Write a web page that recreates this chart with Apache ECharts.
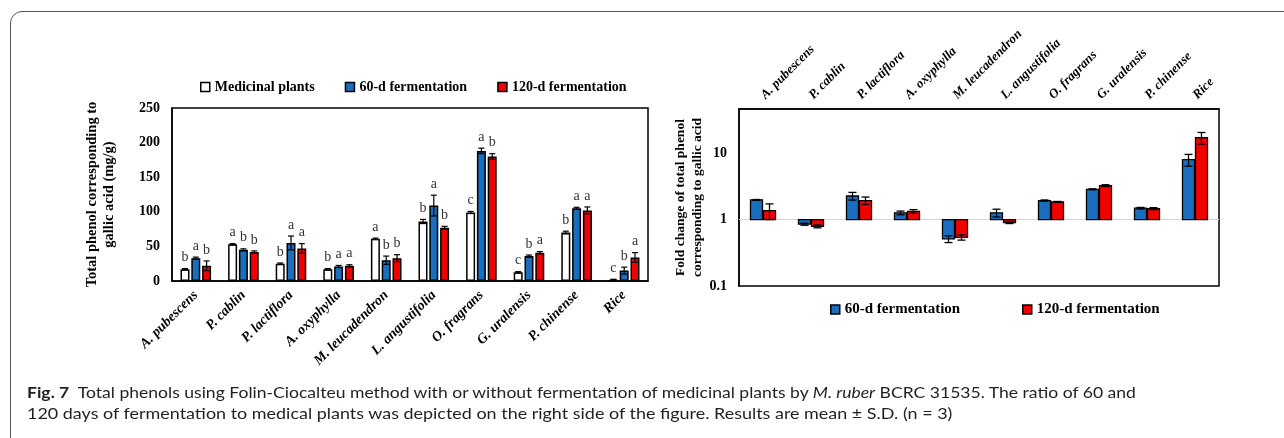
<!DOCTYPE html>
<html><head><meta charset="utf-8">
<script src="https://cdn.jsdelivr.net/npm/echarts@6/dist/echarts.min.js"></script>
<style>
html,body{margin:0;padding:0;background:#fff;width:1284px;height:438px;overflow:hidden}
#frame{position:absolute;left:10px;top:11px;width:1400px;height:600px;border:1.5px solid #555;border-radius:12px 0 0 0;box-sizing:border-box}
#chart{position:absolute;left:0;top:0;width:1284px;height:438px}
.cap{position:absolute;left:27px;font-family:Lato,'Open Sans',sans-serif;font-size:16px;color:#231f20;white-space:nowrap;transform-origin:0 0;line-height:19px}
.cap b{font-weight:bold}
</style></head><body>
<div id="frame"></div>
<div id="chart"></div>
<div class="cap" id="cap1" style="top:382px"><b>Fig. 7</b>&nbsp; Total phenols using Folin-Ciocalteu method with or without fermentation of medicinal plants by <i>M. ruber</i> BCRC 31535. The ratio of 60 and</div>
<div class="cap" id="cap2" style="top:403px">120 days of fermentation to medical plants was depicted on the right side of the figure. Results are mean ± S.D. (n = 3)</div>
<script>
const categories = ['A. pubescens','P. cablin','P. lactiflora','A. oxyphylla','M. leucadendron','L. angustifolia','O. fragrans','G. uralensis','P. chinense','Rice'];
const yTicksLeft = [0, 50, 100, 150, 200, 250];
const medicinal    = [17, 53, 25, 17, 61, 86, 99, 12.5, 70, 2];
const medicinalErr = [1, 1, 1, 1, 1, 3, 1.5, 1, 2, 0.5];
const ferm60       = [33, 45, 55, 21, 30, 109, 188, 36, 105, 15];
const ferm60Err    = [1.5, 1.5, 10, 1.5, 6, 15, 4, 1.5, 1.5, 5];
const ferm120      = [22, 42, 47, 22, 33, 77, 180, 41, 102, 34];
const ferm120Err   = [7, 1.5, 7, 1.5, 5, 2, 4, 1.5, 5, 7];
const lettersMed   = ['b','a','b','b','a','b','c','c','b','c'];
const letters60    = ['a','b','a','a','b','a','a','b','a','b'];
const letters120   = ['b','b','a','a','b','b','b','a','a','a'];
const fold60       = [1.97, 0.85, 2.26, 1.26, 0.51, 1.26, 1.93, 2.85, 1.48, 7.94];
const fold60Err    = [0.03, 0.03, 0.3, 0.08, 0.06, 0.17, 0.04, 0.05, 0.04, 1.6];
const fold120      = [1.36, 0.79, 1.93, 1.33, 0.54, 0.90, 1.84, 3.24, 1.46, 17.0];
const fold120Err   = [0.36, 0.04, 0.25, 0.08, 0.05, 0.03, 0.03, 0.1, 0.05, 3.4];
const yTicksRight  = [0.1, 1, 10];

const serif = "'Liberation Serif','Times New Roman',serif";
const BLUE = '#1a6ebd', RED = '#f20000';
const barW = 9, barGapRatio = 0.2;
const step = barW * (1 + barGapRatio);

function makeErr(vals, errs, lets, offset) {
  return {
    type:'custom', xAxisIndex:0, yAxisIndex:0, z:5, silent:true,
    data: vals.map((v,i)=>[i,v]),
    renderItem:(params, api)=>{
      const i = params.dataIndex, v = vals[i], e = errs[i];
      const hi = api.coord([i, v+e]), lo = api.coord([i, Math.max(v-e,0)]);
      const x = hi[0] + offset;
      const st = {stroke:'#000', lineWidth:1.2};
      return {type:'group', children:[
        {type:'line', shape:{x1:x,y1:hi[1],x2:x,y2:lo[1]}, style:st},
        {type:'line', shape:{x1:x-3,y1:hi[1],x2:x+3,y2:hi[1]}, style:st},
        {type:'line', shape:{x1:x-3,y1:lo[1],x2:x+3,y2:lo[1]}, style:st},
        {type:'text', x:x, y:hi[1]-4, style:{text:lets[i], align:'center', verticalAlign:'bottom', font:'14px '+serif, fill:'#333'}}
      ]};
    }
  };
}

function makeFold(name, vals, errs, color, offset, withLine) {
  const s = {
    type:'custom', name, xAxisIndex:1, yAxisIndex:1, z:5, silent:true,
    itemStyle:{color, borderColor:'#000', borderWidth:1.2},
    data: vals.map((v,i)=>[i,v]),
    renderItem:(params, api)=>{
      const i = params.dataIndex, v = vals[i], e = errs[i];
      const p = api.coord([i, v]), b = api.coord([i, 1]);
      const hi = api.coord([i, v+e]), lo = api.coord([i, v-e]);
      const x = p[0] + offset, w = 12;
      const st = {stroke:'#000', lineWidth:1.3};
      return {type:'group', children:[
        {type:'rect', shape:{x:x-w/2, y:Math.min(p[1],b[1]), width:w, height:Math.abs(p[1]-b[1])}, style:{fill:color, stroke:'#000', lineWidth:1.3}},
        {type:'line', shape:{x1:x,y1:hi[1],x2:x,y2:lo[1]}, style:st},
        {type:'line', shape:{x1:x-4,y1:hi[1],x2:x+4,y2:hi[1]}, style:st},
        {type:'line', shape:{x1:x-4,y1:lo[1],x2:x+4,y2:lo[1]}, style:st}
      ]};
    }
  };
  if (withLine) s.markLine = {silent:true, symbol:'none', label:{show:false}, lineStyle:{color:'#d4d4d4', width:1, type:'solid'}, data:[{yAxis:1}], z:1};
  return s;
}

const legendText = {fontFamily:serif, fontWeight:'bold', fontSize:14, color:'#000'};
const legendBase = {icon:'rect', itemWidth:9, itemHeight:9, itemGap:30, selectedMode:false, textStyle:legendText, itemStyle:{borderColor:'#000', borderWidth:1.5}};
const legendRight = Object.assign({}, legendBase, {textStyle:Object.assign({}, legendText, {fontSize:15})});

const option = {
  animation:false,
  backgroundColor:'transparent',
  legend:[
    Object.assign({data:['Medicinal plants','60-d fermentation','120-d fermentation'], left:195, top:75}, legendBase),
    Object.assign({data:['60-d fermentation'], left:825, top:297}, legendRight),
    Object.assign({data:['120-d fermentation'], left:1017, top:297}, legendRight)
  ],
  grid:[
    {left:172, top:108, width:476, height:173, show:true, borderColor:'#000', borderWidth:1.5},
    {left:739, top:109, width:480, height:177, show:true, borderColor:'#000', borderWidth:1.5}
  ],
  xAxis:[
    {type:'category', gridIndex:0, data:categories, axisTick:{show:false},
     axisLine:{lineStyle:{color:'#000', width:1.5}},
     axisLabel:{rotate:45, interval:0, margin:12, fontFamily:serif, fontStyle:'italic', fontWeight:'bold', fontSize:14, color:'#000'}},
    {type:'category', gridIndex:1, position:'top', data:categories, axisTick:{show:false},
     axisLine:{lineStyle:{color:'#000', width:1.5}},
     axisLabel:{rotate:-45, interval:0, margin:12, fontFamily:serif, fontStyle:'italic', fontWeight:'bold', fontSize:13, color:'#000'}}
  ],
  yAxis:[
    {type:'value', gridIndex:0, min:yTicksLeft[0], max:yTicksLeft[yTicksLeft.length-1], interval:50,
     axisLine:{show:true, lineStyle:{color:'#000', width:1.5}}, axisTick:{show:false}, splitLine:{show:false},
     axisLabel:{fontFamily:serif, fontWeight:'bold', fontSize:14, color:'#000', margin:12},
     name:'Total phenol corresponding to\ngallic acid (mg/g)', nameLocation:'middle', nameGap:54, nameRotate:90,
     nameTextStyle:{fontFamily:serif, fontWeight:'bold', fontSize:14.5, color:'#000', lineHeight:17}},
    {type:'log', gridIndex:1, logBase:10, min:yTicksRight[0], max:46,
     axisLine:{show:true, lineStyle:{color:'#000', width:1.5}}, axisTick:{show:false}, splitLine:{show:false},
     axisLabel:{fontFamily:serif, fontWeight:'bold', fontSize:14, color:'#000', margin:12, showMaxLabel:false,
       formatter:(v)=>{ const m = yTicksRight.find(t=>Math.abs(t-v)<1e-9*Math.max(1,t)+1e-12); return m===undefined?'':String(m);} },
     name:'Fold change of total phenol\ncorresponding to gallic acid', nameLocation:'middle', nameGap:33, nameRotate:90,
     nameTextStyle:{fontFamily:serif, fontWeight:'bold', fontSize:13.5, color:'#000', lineHeight:17}}
  ],
  series:[
    {type:'bar', name:'Medicinal plants', xAxisIndex:0, yAxisIndex:0, data:medicinal, barWidth:barW, barGap:(barGapRatio*100)+'%',
     itemStyle:{color:'#fff', borderColor:'#000', borderWidth:1.5}},
    {type:'bar', name:'60-d fermentation', xAxisIndex:0, yAxisIndex:0, data:ferm60, barWidth:barW,
     itemStyle:{color:BLUE, borderColor:'#000', borderWidth:1.5}},
    {type:'bar', name:'120-d fermentation', xAxisIndex:0, yAxisIndex:0, data:ferm120, barWidth:barW,
     itemStyle:{color:RED, borderColor:'#000', borderWidth:1.5}},
    makeErr(medicinal, medicinalErr, lettersMed, -step),
    makeErr(ferm60, ferm60Err, letters60, 0),
    makeErr(ferm120, ferm120Err, letters120, step),
    makeFold('60-d fermentation', fold60, fold60Err, BLUE, -6.5, true),
    makeFold('120-d fermentation', fold120, fold120Err, RED, 6.5, false)
  ]
};
const chart = echarts.init(document.getElementById('chart'), null, {renderer:'canvas'});
chart.setOption(option);

function fit(id, target){
  const el = document.getElementById(id);
  const w = el.scrollWidth;
  el.style.transform = 'scaleX(' + (target / w) + ')';
}
fit('cap1', 1109);
fit('cap2', 925);
</script>
</body></html>
